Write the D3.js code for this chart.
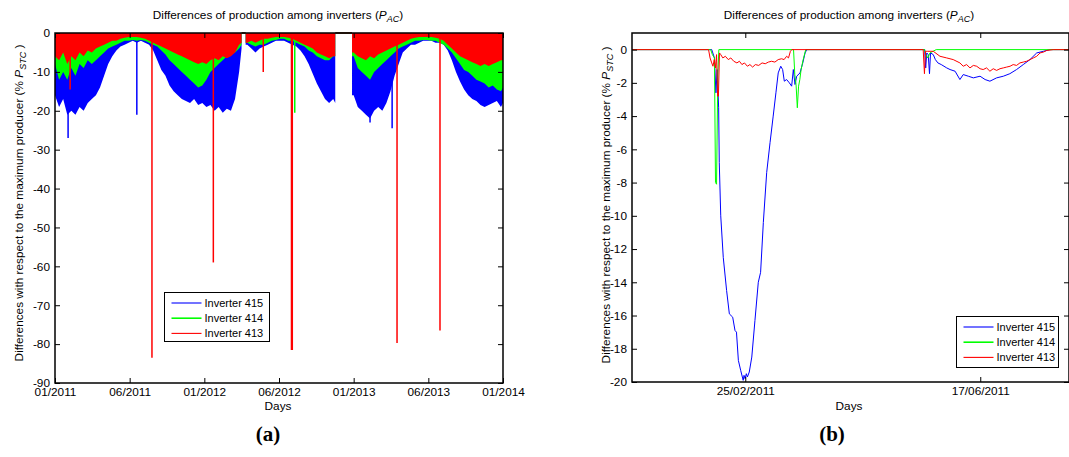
<!DOCTYPE html>
<html>
<head>
<meta charset="utf-8">
<script src="https://cdn.jsdelivr.net/npm/d3@7"></script>
<style>
  body { margin: 0; background: #fff; }
  text { font-family: "Liberation Sans", Arial, sans-serif; }
</style>
</head>
<body>
<svg id="chart" width="1069" height="457"></svg>
<script>
// ---------- shared
const seriesNames = ['Inverter 415', 'Inverter 414', 'Inverter 413'];
const seriesColors = ['#0000ff', '#00ff00', '#ff0000'];

// ---------- panel (a): 3 years, envelope of daily differences
const daysA = [
  0, 10, 20, 30, 40, 50, 60, 70, 80, 90,
  100, 110, 120, 130, 140, 150, 160, 170, 180, 190,
  200, 210, 220, 230, 240, 250, 260, 270, 280, 290,
  300, 310, 320, 330, 340, 350, 360, 370, 380, 390,
  400, 410, 420, 430, 440, 450, 456, 460, 466,
  470, 480, 490, 500, 510, 520, 530, 540, 550, 560,
  570, 580, 590, 600, 610, 620, 630, 640, 650, 660, 670, 680, 685, 700, 726,
  730, 740, 750, 760, 770, 780, 790, 800, 810, 820,
  830, 840, 850, 860, 870, 880, 890, 900, 910, 920,
  930, 940, 950, 960, 970, 980, 990, 1000, 1010, 1020,
  1030, 1040, 1050, 1060, 1070, 1080, 1090, 1095
];
const inv415A = [
  -16, -19, -17, -21, -20, -21, -19, -20, -18, -17,
  -16, -14, -11, -8, -6, -4.5, -3.5, -3, -2.5, -2,
  -2.5, -2, -2.5, -3, -4.5, -7, -9.5, -11, -13.5, -15,
  -16, -17, -17.5, -18, -17, -18.5, -18, -19, -18.5, -20,
  -19, -20.5, -19.5, -20, -17, -10, -4, null, -3,
  -3, -4, -5, -4, -3.5, -3, -2.5, -2, -2, -2,
  -2.5, -3, -3.5, -4.5, -6, -8, -10.5, -13, -15, -17, -18, -17, -18, null, -16,
  -16, -19, -20, -21, -22, -20, -19, -20, -18, -15,
  -11, -8, -5, -4, -3, -3, -2.5, -2, -2, -2,
  -2.5, -2.5, -3, -4.5, -7, -10, -12.5, -14.5, -16, -17,
  -17.5, -18.5, -19, -18.5, -18, -17.5, -19, -18
];
const inv414A = [
  -8, -12, -10, -12, -9, -11, -8, -9, -7, -8,
  -7, -6, -5, -4, -3.5, -3, -2.5, -2, -2, -1.8,
  -2, -1.8, -2, -2.5, -3, -3.5, -4.5, -5.5, -7, -8,
  -9, -10, -11, -12, -13, -14, -13.5, -12, -10, -9,
  -8, -7, -6, -5.5, -5, -4, -3, null, -2.5,
  -2.5, -3, -3.5, -3, -3, -2.5, -2, -1.8, -1.5, -1.5,
  -2, -2, -2.5, -3, -3.5, -4.5, -5, -6, -6.5, -7, -7, -6, -6, null, -6,
  -6, -9, -10, -11, -12, -10, -9, -8, -7, -6,
  -5, -4, -3.5, -3, -2.5, -2, -2, -1.8, -1.8, -2,
  -2, -2.5, -3, -4, -5, -6.5, -8, -9.5, -10, -11,
  -12, -12.5, -13, -14, -13.5, -14.5, -15, -14
];
const inv413A = [
  -6, -7, -5, -8, -6, -7, -5, -6, -4.5, -5,
  -4, -3.5, -3, -2.5, -2, -2, -1.5, -1.2, -1, -1,
  -1, -1.2, -1.5, -2, -2.5, -3, -3.5, -4, -4.5, -5,
  -5.5, -6, -6.5, -7, -7.5, -8, -7.5, -8, -7, -6.5,
  -7, -6, -6.5, -6, -5, -3, -2.5, null, -2.5,
  -2.5, -2, -2.5, -2, -1.5, -1.5, -1.2, -1, -1, -1,
  -1.2, -1.5, -2, -2.5, -3, -3.5, -4, -5, -5.5, -6, -6.5, -6, -6, null, -5,
  -5, -6, -6.5, -7, -6, -6.5, -5.5, -5, -4.5, -4,
  -3.5, -3, -2.5, -2, -1.5, -1.2, -1, -1, -1, -1,
  -1.2, -1.5, -2, -3, -4, -5, -6, -6.5, -7, -7.5,
  -8, -8.5, -8, -8.5, -8, -7.5, -7, -7
];
// isolated drops
const spikeDays415A = [32, 200, 770, 824];
const spikeVals415A = [-27, -21, -23, -24.5];
const spikeDays414A = [586];
const spikeVals414A = [-20.5];
const spikeDays413A = [37, 237, 387, 509, 578, 580, 836, 941];
const spikeVals413A = [-14.5, -83.5, -59, -10, -81.5, -81.5, -79.7, -76.5];

const tickDaysA = [0, 182.5, 365, 547.5, 730, 912.5, 1095];
const tickLabelsA = ['01/2011', '06/2011', '01/2012', '06/2012', '01/2013', '06/2013', '01/2014'];
const yTicksA = [-90, -80, -70, -60, -50, -40, -30, -20, -10, 0];

// ---------- panel (b): zoom on two events of 2011, [day of year, value]
const inv415B = [
  [1, 0], [39, 0], [40.3, -0.5], [41, -2.6], [41.6, -1.2], [42.3, -3.5], [42.6, -6.8], [43.3, -10],
  [44.5, -12.5], [46.1, -14.5], [47.4, -15.9], [49, -16.1], [50.1, -16.9], [50.8, -17], [51.7, -18.7],
  [52.8, -19.3], [54, -19.9], [54.4, -19.6], [54.9, -19.8], [55.5, -19.5], [56, -19.7], [56.9, -19.4],
  [58.1, -18.5], [59.6, -16.3], [61.2, -14], [62.3, -13.4], [63.6, -10.4], [65.2, -7.4], [66.8, -5.6],
  [68.3, -4], [69.6, -2.6], [70.7, -1.4], [71.9, -1.0], [72.8, -1.2], [73.6, -1.9], [74.7, -1.8],
  [76, -2.0], [77.1, -2.2], [77.9, -1.2], [78.7, -2.1], [79.5, -1.6], [81.1, -1.4], [82.4, -0.8],
  [83.5, -0.2], [84.3, 0], [140.5, 0], [141, -1.1], [141.5, -0.2], [142.2, -0.3], [142.8, -1.45],
  [143.3, -0.2], [144.6, -0.3], [145.6, -0.6], [146.8, -0.8], [148.4, -0.9], [151, -1.1], [152.6, -1.2],
  [155, -1.3], [157.3, -1.8], [158.9, -1.5], [161.3, -1.6], [163.7, -1.7], [166.9, -1.6], [169.3, -1.8],
  [171.6, -1.9], [174.8, -1.7], [178, -1.6], [181.1, -1.45], [184.3, -1.2], [187.5, -0.9], [190.7, -0.6],
  [193.9, -0.2], [197.1, -0.1], [200.2, 0], [209.3, 0]
];
const inv414B = [
  [1, 0], [38.5, 0], [39.3, -0.3], [40.3, -0.5], [40.8, -8.0], [41.3, -8.1], [41.9, -1.5], [42.4, 0],
  [78, 0], [78.6, -1.5], [79.2, -2.1], [79.8, -3.5], [80.4, -2.2], [81, -1.8], [81.6, -1.2], [82.6, -0.6],
  [83.8, 0], [140.5, 0], [141, -0.3], [142, -0.5], [143, -0.2], [144.5, -0.1], [146, 0], [209.3, 0]
];
const inv413B = [
  [1, 0], [37.5, 0], [38.2, -0.5], [39, -0.8], [39.6, -1.0], [40.2, -0.6], [40.8, -1.1], [41.3, -0.3],
  [41.8, -2.8], [42.2, -2.8], [42.7, -0.2], [43.3, -0.3], [44.3, -0.5], [45.5, -0.4], [46.9, -0.6],
  [48.1, -0.5], [49.5, -0.7], [51, -0.8], [52.2, -0.7], [53.4, -0.9], [54.6, -0.8], [56, -1.0],
  [57.2, -0.9], [58.5, -1.05], [59.8, -0.9], [61.4, -0.95], [63, -0.8], [64.5, -0.85], [66, -0.75],
  [67.5, -0.7], [69.1, -0.75], [70.7, -0.6], [72.3, -0.55], [73.5, -0.6], [74.7, -0.4], [75.6, -0.5],
  [76.5, -0.1], [77.2, 0], [139.8, 0], [140.4, -1.45], [140.9, -0.1], [142, -0.1], [144.6, -0.1],
  [147.8, -0.4], [151, -0.5], [154.1, -0.6], [157.3, -0.8], [158.9, -1.0], [160.5, -0.9], [162.1, -1.1],
  [163.7, -0.95], [165.3, -1.0], [166.9, -1.15], [168.4, -1.2], [170, -1.1], [171.6, -1.3], [173.2, -1.15],
  [174.8, -1.25], [176.4, -1.15], [178, -1.1], [179.6, -1.05], [181.2, -1.0], [182.7, -0.9], [184.3, -0.95],
  [185.9, -0.8], [187.5, -0.75], [189.1, -0.7], [190.7, -0.6], [192.3, -0.5], [193.9, -0.4], [195.5, -0.2],
  [197.1, -0.15], [198.7, -0.05], [201.8, 0], [209.3, 0]
];
const tickDaysB = [55, 167];
const tickLabelsB = ['25/02/2011', '17/06/2011'];
const yTicksB = [-20, -18, -16, -14, -12, -10, -8, -6, -4, -2, 0];

const svg = d3.select('#chart');
const FS = 11.8;

// MATLAB-like box with inward ticks on all sides
function drawFrame(x, y, xTicks, xLabels, yTicks) {
  const [x0, x1] = x.range(), [y1, y0] = y.range();
  const g = svg.append('g');
  const fmt = (d, i) => xLabels[i];
  g.append('g').attr('transform', `translate(0,${y1})`)
    .call(d3.axisBottom(x).tickValues(xTicks).tickFormat(fmt).tickSizeInner(-5).tickSizeOuter(0).tickPadding(5));
  g.append('g').attr('transform', `translate(0,${y0})`)
    .call(d3.axisTop(x).tickValues(xTicks).tickFormat('').tickSizeInner(-5).tickSizeOuter(0));
  g.append('g').attr('transform', `translate(${x0},0)`)
    .call(d3.axisLeft(y).tickValues(yTicks).tickFormat(d => String(d)).tickSizeInner(-5).tickSizeOuter(0).tickPadding(5));
  g.append('g').attr('transform', `translate(${x1},0)`)
    .call(d3.axisRight(y).tickValues(yTicks).tickFormat('').tickSizeInner(-5).tickSizeOuter(0));
  g.selectAll('.domain').remove();
  g.selectAll('.tick line').attr('stroke', '#000');
  g.selectAll('.tick text').attr('fill', '#000').style('font-size', FS + 'px')
    .style('font-family', '"Liberation Sans", Arial, sans-serif');
  g.append('rect')
    .attr('x', x0).attr('y', y0).attr('width', x1 - x0).attr('height', y1 - y0)
    .attr('fill', 'none').attr('stroke', '#000').attr('stroke-width', 1.5);
}

function drawLabels(cx, yMid, ylx, titleY, daysY) {
  const t = svg.append('text').attr('x', cx).attr('y', titleY).attr('text-anchor', 'middle')
    .style('font-size', FS + 'px');
  t.append('tspan').text('Differences of production among inverters (');
  t.append('tspan').text('P').style('font-style', 'italic');
  t.append('tspan').text('AC').style('font-style', 'italic').style('font-size', '9px').attr('dy', 3);
  t.append('tspan').text(')').attr('dy', -3);

  const yl = svg.append('text').attr('transform', `translate(${ylx},${yMid}) rotate(-90)`)
    .attr('text-anchor', 'middle').style('font-size', FS + 'px');
  yl.append('tspan').text('Differences with respect to the maximum producer (% ');
  yl.append('tspan').text('P').style('font-style', 'italic');
  yl.append('tspan').text('STC').style('font-style', 'italic').style('font-size', '9px').attr('dy', 3);
  yl.append('tspan').text(' )').attr('dy', -3);

  svg.append('text').attr('x', cx).attr('y', daysY).attr('text-anchor', 'middle')
    .style('font-size', FS + 'px').text('Days');
}

function drawLegend(lx, ly, w, h) {
  const g = svg.append('g').attr('transform', `translate(${lx},${ly})`);
  g.append('rect').attr('width', w).attr('height', h)
    .attr('fill', '#fff').attr('stroke', '#000').attr('stroke-width', 1);
  seriesNames.forEach((name, i) => {
    const cy = 10.5 + i * 15.2;
    g.append('line').attr('x1', 7).attr('x2', 37).attr('y1', cy).attr('y2', cy)
      .attr('stroke', seriesColors[i]).attr('stroke-width', i === 1 ? 1.6 : 1.1);
    g.append('text').attr('x', 40).attr('y', cy + 4).style('font-size', '11px').text(name);
  });
}

// ---------- panel (a)
const xA = d3.scaleLinear().domain([0, 1095]).range([55, 503]);
const yA = d3.scaleLinear().domain([-90, 0]).range([383, 33]);
const areaA = d3.area()
  .defined(d => d[1] != null)
  .x(d => xA(d[0])).y0(yA(0)).y1(d => yA(d[1]));

const gA = svg.append('g');
const seriesA = [inv415A, inv414A, inv413A];
const spikesA = [[spikeDays415A, spikeVals415A], [spikeDays414A, spikeVals414A], [spikeDays413A, spikeVals413A]];
seriesA.forEach((vals, s) => {
  gA.append('path').datum(daysA.map((d, i) => [d, vals[i]]))
    .attr('d', areaA).attr('fill', seriesColors[s]);
  const [sd, sv] = spikesA[s];
  gA.selectAll(null).data(sd.map((d, i) => [d, sv[i]])).enter().append('line')
    .attr('x1', d => xA(d[0])).attr('x2', d => xA(d[0]))
    .attr('y1', yA(0)).attr('y2', d => yA(d[1]))
    .attr('stroke', seriesColors[s]).attr('stroke-width', 1.5);
});
// missing data: all series sit on zero
daysA.forEach((d, i) => {
  if (inv413A[i] == null) {
    gA.append('line').attr('x1', xA(daysA[i - 1])).attr('x2', xA(daysA[i + 1]))
      .attr('y1', yA(0)).attr('y2', yA(0)).attr('stroke', '#7a4424').attr('stroke-width', 2);
  }
});
drawFrame(xA, yA, tickDaysA, tickLabelsA, yTicksA);
drawLabels(278, 203, 23, 19, 410);
drawLegend(164.5, 292.5, 105, 49);

// ---------- panel (b)
const xB = d3.scaleLinear().domain([1, 209.3]).range([632, 1069]);
const yB = d3.scaleLinear().domain([-20, 1]).range([382, 33]);
const lineB = d3.line().x(d => xB(d[0])).y(d => yB(d[1]));
[inv415B, inv414B, inv413B].forEach((data, s) => {
  svg.append('path').datum(data).attr('d', lineB)
    .attr('fill', 'none').attr('stroke', seriesColors[s]).attr('stroke-width', 1);
});
drawFrame(xB, yB, tickDaysB, tickLabelsB, yTicksB);
drawLabels(849, 205, 610, 19, 410);
drawLegend(956.5, 316.5, 102, 51);

// ---------- sub-figure letters
svg.append('text').attr('x', 268).attr('y', 441).attr('text-anchor', 'middle')
  .style('font-family', '"Liberation Serif", "DejaVu Serif", serif').style('font-size', '21px')
  .style('font-weight', 'bold').text('(a)');
svg.append('text').attr('x', 832).attr('y', 441).attr('text-anchor', 'middle')
  .style('font-family', '"Liberation Serif", "DejaVu Serif", serif').style('font-size', '21px')
  .style('font-weight', 'bold').text('(b)');
</script>
</body>
</html>
